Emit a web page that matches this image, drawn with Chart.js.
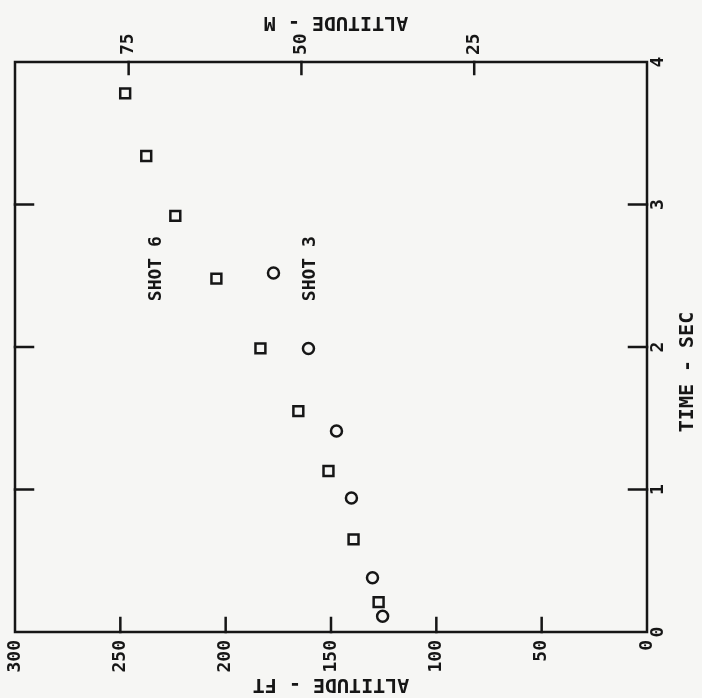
<!DOCTYPE html>
<html>
<head>
<meta charset="utf-8">
<title>Altitude vs time</title>
<script src="https://cdn.jsdelivr.net/npm/chart.js@4.4.1/dist/chart.umd.min.js"></script>
<style>
  html, body { margin:0; padding:0; background:#f6f6f4; }
  #wrap { width:702px; height:698px; }
</style>
</head>
<body>
<div id="wrap"><canvas id="chart" width="702" height="698"></canvas></div>
<script>
/* altitude (ft) vs time (s), page turned on its side */

// SHOT 6 (squares)
const shot6Alt  = [247.7, 237.7, 223.9, 204.4, 183.5, 165.5, 151.2, 139.3, 127.4];
const shot6Time = [3.78, 3.34, 2.92, 2.48, 1.99, 1.55, 1.13, 0.65, 0.21];
// SHOT 3 (circles)
const shot3Alt  = [177.3, 160.7, 147.4, 140.3, 130.3, 125.5];
const shot3Time = [2.52, 1.99, 1.41, 0.94, 0.38, 0.11];

const ftTicks   = [300, 250, 200, 150, 100, 50, 0];
const mTicks    = [75, 50, 25];
const timeTicks = [0, 1, 2, 3, 4];

const seriesLabels = ['SHOT 6', 'SHOT 3'];
const labelAlt  = [233, 160];
const labelTime = [2.55, 2.55];

const FT_PER_M = 3.2808;
const INK = '#161616';
const FONT = '"DejaVu Sans Mono", "Liberation Mono", monospace';

const pts = (xs, ys) => xs.map((v,i)=>({x:v, y:ys[i]}));

function rotText(ctx, txt, x, y, ang, align, base){
  ctx.save();
  ctx.translate(x, y);
  ctx.rotate(ang);
  ctx.textAlign = align;
  ctx.textBaseline = base;
  ctx.fillText(txt, 0, 0);
  ctx.restore();
}

const framePlugin = {
  id: 'frame',
  beforeDatasetsDraw(chart){
    const {ctx, chartArea:a, scales} = chart;
    ctx.save();
    ctx.strokeStyle = INK;
    ctx.lineWidth = 2.5;
    ctx.lineCap = 'square';
    ctx.strokeRect(a.left, a.top, a.right - a.left, a.bottom - a.top);
    ctx.beginPath();
    // bottom ft ticks (inward)
    ftTicks.forEach(v=>{
      if(v === 0 || v === 300) return;
      const px = scales.x.getPixelForValue(v);
      ctx.moveTo(px, a.bottom); ctx.lineTo(px, a.bottom - 14);
    });
    // top metre ticks
    mTicks.forEach(v=>{
      const px = scales.xM.getPixelForValue(v);
      ctx.moveTo(px, a.top); ctx.lineTo(px, a.top + 12);
    });
    // time ticks on both sides
    timeTicks.forEach(v=>{
      if(v === 0 || v === 4) return;
      const py = scales.y.getPixelForValue(v);
      ctx.moveTo(a.right, py); ctx.lineTo(a.right - 18, py);
      ctx.moveTo(a.left, py);  ctx.lineTo(a.left + 18, py);
    });
    ctx.stroke();
    ctx.restore();
  },
  afterDraw(chart){
    const {ctx, chartArea:a, scales} = chart;
    ctx.save();
    ctx.fillStyle = INK;
    ctx.font = `bold 18px ${FONT}`;
    ftTicks.forEach(v=>{
      rotText(ctx, String(v), scales.x.getPixelForValue(v), a.bottom + 8, -Math.PI/2, 'right', 'middle');
    });
    mTicks.forEach(v=>{
      rotText(ctx, String(v), scales.xM.getPixelForValue(v), a.top - 7, -Math.PI/2, 'left', 'middle');
    });
    timeTicks.forEach(v=>{
      rotText(ctx, String(v), a.right + 11, scales.y.getPixelForValue(v), -Math.PI/2, 'center', 'middle');
    });
    seriesLabels.forEach((s,i)=>{
      rotText(ctx, s, scales.x.getPixelForValue(labelAlt[i]), scales.y.getPixelForValue(labelTime[i]), -Math.PI/2, 'center', 'middle');
    });
    ctx.font = `bold 20px ${FONT}`;
    const midX = (a.left + a.right) / 2;
    rotText(ctx, 'ALTITUDE - FT', midX, a.bottom + 52, Math.PI, 'center', 'middle');
    rotText(ctx, 'ALTITUDE - M', midX + 5, a.top - 40, Math.PI, 'center', 'middle');
    rotText(ctx, 'TIME - SEC', a.right + 41, (a.top + a.bottom)/2 + 25, -Math.PI/2, 'center', 'middle');
    ctx.restore();
  }
};

new Chart(document.getElementById('chart'), {
  type: 'scatter',
  data: {
    datasets: [
      { label: seriesLabels[0], data: pts(shot6Alt, shot6Time), pointStyle:'rect',
        pointRadius:7, pointHoverRadius:7, borderColor:INK, backgroundColor:'rgba(0,0,0,0)', borderWidth:2.5 },
      { label: seriesLabels[1], data: pts(shot3Alt, shot3Time), pointStyle:'circle',
        pointRadius:5.5, pointHoverRadius:5.5, borderColor:INK, backgroundColor:'rgba(0,0,0,0)', borderWidth:2.5 }
    ]
  },
  options: {
    responsive: false,
    animation: false,
    layout: { padding: { left:15, right:55, top:62, bottom:66 } },
    scales: {
      x:  { type:'linear', reverse:true, min:0, max:300, display:false },
      xM: { type:'linear', axis:'x', reverse:true, min:0, max:300/FT_PER_M, display:false },
      y:  { type:'linear', min:0, max:4, display:false }
    },
    plugins: { legend:{ display:false }, tooltip:{ enabled:false } }
  },
  plugins: [framePlugin]
});
</script>
</body>
</html>
